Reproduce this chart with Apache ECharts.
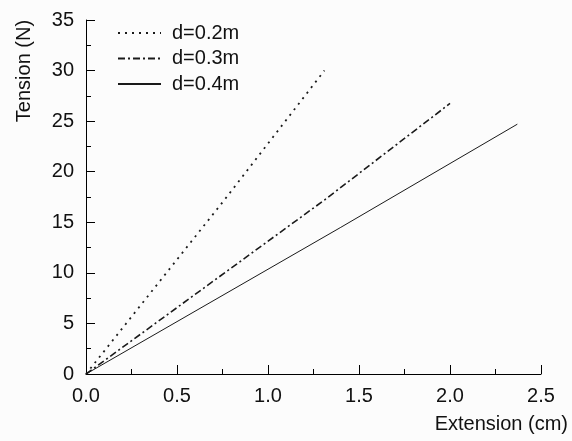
<!DOCTYPE html>
<html>
<head>
<meta charset="utf-8">
<script src="https://cdn.jsdelivr.net/npm/echarts@6/dist/echarts.min.js"></script>
<style>html,body{margin:0;padding:0;background:#fcfcfc;}#c{width:572px;height:441px;}</style>
</head>
<body>
<div id="c"></div>
<script>
var seriesNames = ['d=0.2m', 'd=0.3m', 'd=0.4m'];
var d02 = [[0, 0], [0.76, 17.2], [1.31, 30.0]];
var d03 = [[0, 0], [1.31, 17.2], [2.0, 26.75]];
var d04 = [[0, 0], [1.40, 14.5], [2.37, 24.7]];
var xTitle = 'Extension (cm)';
var yTitle = 'Tension (N)';

var chart = echarts.init(document.getElementById('c'), null, {renderer: 'canvas'});
var FONT = 'Liberation Sans, Arial, sans-serif';
var FS = 20;
var lineColor = '#1a1a1a';
function mk(name, data, type, width) {
  return {
    name: name, type: 'line', data: data, symbol: 'none', smooth: false,
    lineStyle: {color: lineColor, width: width, type: type},
    itemStyle: {color: lineColor},
    emphasis: {disabled: true}, animation: false
  };
}
chart.setOption({
  backgroundColor: '#fcfcfc',
  animation: false,
  grid: {left: 86, right: 31, top: 20, bottom: 67, containLabel: false},
  legend: {
    orient: 'vertical', left: 117, top: 23, padding: 0, itemWidth: 43, itemHeight: 14, itemGap: 5.5,
    itemStyle: {opacity: 0, borderWidth: 0},
    textStyle: {fontFamily: FONT, fontSize: FS, color: '#111', lineHeight: 20, padding: [0, 0, 0, 6]},
    data: seriesNames
  },
  xAxis: {
    type: 'value', min: 0, max: 2.5, interval: 0.5,
    name: xTitle, nameLocation: 'end', nameGap: 27,
    nameTextStyle: {fontFamily: FONT, fontSize: FS, color: '#111', align: 'right', verticalAlign: 'top', padding: [40, 0, 0, 0]},
    axisLine: {show: true, onZero: false, lineStyle: {color: '#000', width: 1}},
    axisTick: {show: true, inside: true, length: 9, lineStyle: {color: '#000'}},
    minorTick: {show: true, splitNumber: 2, length: 5, lineStyle: {color: '#000'}},
    splitLine: {show: false},
    axisLabel: {fontFamily: FONT, fontSize: FS, color: '#111', margin: 12, formatter: function (v) { return v.toFixed(1); }}
  },
  yAxis: {
    type: 'value', min: 0, max: 35, interval: 5,
    axisLine: {show: true, onZero: false, lineStyle: {color: '#000', width: 1}},
    axisTick: {show: true, inside: true, length: 9, lineStyle: {color: '#000'}},
    minorTick: {show: true, splitNumber: 2, length: 5, lineStyle: {color: '#000'}},
    splitLine: {show: false},
    axisLabel: {fontFamily: FONT, fontSize: FS, color: '#111', margin: 12}
  },
  graphic: [{
    type: 'text', x: 24, y: 71, rotation: Math.PI / 2,
    style: {text: yTitle, fontFamily: FONT, fontSize: FS, fill: '#111', align: 'center', verticalAlign: 'middle'}
  }],
  series: [
    mk(seriesNames[0], d02, [2, 5], 1.8),
    mk(seriesNames[1], d03, [7, 3, 2, 3], 1.6),
    mk(seriesNames[2], d04, 'solid', 1)
  ]
});
</script>
</body>
</html>
